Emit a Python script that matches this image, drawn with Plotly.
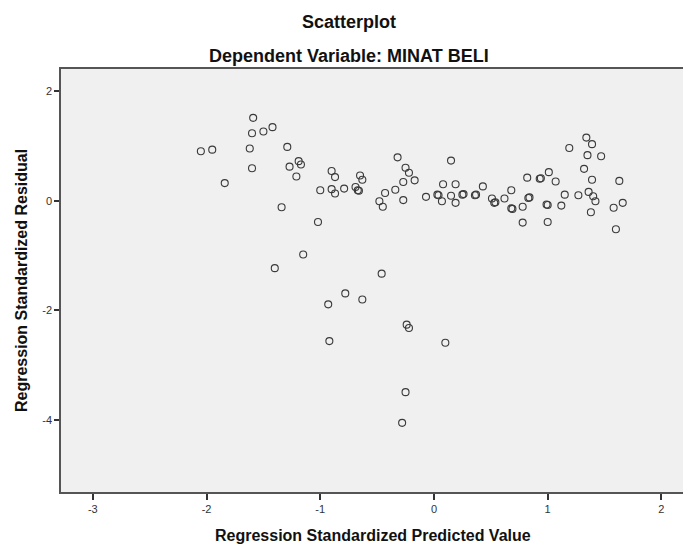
import plotly.graph_objects as go

predicted = [-2.05, -1.95, -1.84, -1.59, -1.60, -1.50, -1.42, -1.62, -1.60, -1.29,
             -1.19, -1.17, -1.27, -1.21, -1.34, -1.02, -1.15, -1.40, -0.46, -0.78,
             -0.63, -0.93, -0.92, -0.90, -0.87, -1.00, -0.90, -0.87, -0.79, -0.69,
             -0.67, -0.66, -0.65, -0.63, -0.32, -0.25, -0.22, -0.17, -0.27, -0.34,
             -0.43, -0.48, -0.45, -0.27, -0.07, 0.15, 0.03, 0.04, 0.08, 0.07,
             0.15, 0.19, 0.19, 0.25, 0.26, 0.37, 0.36, 0.43, 0.51, 0.53,
             0.54, 0.62, 0.68, 0.69, 0.68, 0.78, 0.78, 0.82, 0.84, 0.83,
             0.93, 0.94, 1.01, 1.07, 0.99, 1.00, 1.00, 1.12, 1.15, 1.19,
             1.27, 1.32, 1.34, 1.39, 1.35, 1.47, 1.39, 1.36, 1.40, 1.42,
             1.38, 1.63, 1.58, 1.66, 1.60, -0.24, -0.22, 0.10, -0.25, -0.28]
residual = [0.90, 0.93, 0.32, 1.51, 1.23, 1.26, 1.34, 0.95, 0.59, 0.98,
            0.72, 0.66, 0.62, 0.44, -0.12, -0.39, -0.98, -1.23, -1.33, -1.69,
            -1.80, -1.89, -2.56, 0.54, 0.43, 0.19, 0.21, 0.13, 0.22, 0.25,
            0.19, 0.18, 0.46, 0.38, 0.79, 0.60, 0.51, 0.37, 0.34, 0.20,
            0.14, -0.01, -0.11, 0.01, 0.07, 0.73, 0.11, 0.10, 0.30, -0.01,
            0.09, 0.30, -0.04, 0.11, 0.12, 0.11, 0.10, 0.26, 0.04, -0.04,
            -0.03, 0.04, 0.19, -0.15, -0.14, -0.11, -0.40, 0.42, 0.06, 0.05,
            0.40, 0.41, 0.52, 0.35, -0.07, -0.08, -0.39, -0.09, 0.11, 0.96,
            0.10, 0.58, 1.15, 1.03, 0.83, 0.81, 0.38, 0.16, 0.08, -0.01,
            -0.21, 0.36, -0.13, -0.04, -0.52, -2.26, -2.32, -2.59, -3.49, -4.05]

x_ticks = [-3, -2, -1, 0, 1, 2]
y_ticks = [2, 0, -2, -4]

FONT = "Liberation Sans, Arial, sans-serif"
TITLE_FONT = dict(size=18, color="#111", family=FONT)
AXIS_TITLE_FONT = dict(size=16, color="#111", family=FONT)

fig = go.Figure()
fig.add_trace(go.Scatter(
    x=predicted, y=residual, mode="markers",
    marker=dict(symbol="circle-open", size=7, color="#3a3a3a", line=dict(width=1.1)),
    showlegend=False, hoverinfo="x+y",
))

fig.update_layout(
    width=683, height=544,
    margin=dict(l=61, r=0, t=69, b=52, autoexpand=False),
    paper_bgcolor="white", plot_bgcolor="#f0f0f0",
    font=dict(family=FONT, color="#222"),
    xaxis=dict(
        range=[-3.28, 2.19], tickvals=x_ticks, ticktext=[str(v) for v in x_ticks],
        showgrid=False, zeroline=False, showline=True, linecolor="#555", linewidth=1.5,
        mirror=True, ticks="outside", ticklen=6, tickcolor="#333", tickwidth=1.5,
        tickfont=dict(size=11, color="#333", family=FONT), automargin=False,
    ),
    yaxis=dict(
        range=[-5.31, 2.40], tickvals=y_ticks, ticktext=[str(v) for v in y_ticks],
        showgrid=False, zeroline=False, showline=True, linecolor="#555", linewidth=1.5,
        ticks="outside", ticklen=5, tickcolor="#333", tickwidth=1.5,
        tickfont=dict(size=11, color="#333", family=FONT), automargin=False,
    ),
    annotations=[
        dict(text="<b>Scatterplot</b>", xref="paper", yref="paper", x=0.463, y=1.112,
             xanchor="center", yanchor="middle", showarrow=False, font=TITLE_FONT),
        dict(text="<b>Dependent Variable: MINAT BELI</b>", xref="paper", yref="paper",
             x=0.463, y=1.031, xanchor="center", yanchor="middle", showarrow=False,
             font=TITLE_FONT),
        dict(text="<b>Regression Standardized Predicted Value</b>", xref="paper",
             yref="paper", x=0.502, y=-0.1017, xanchor="center", yanchor="middle",
             showarrow=False, font=AXIS_TITLE_FONT),
        dict(text="<b>Regression Standardized Residual</b>", xref="paper",
             yref="paper", x=-0.0635, y=0.5, xanchor="center", yanchor="middle",
             textangle=-90, showarrow=False, font=AXIS_TITLE_FONT),
    ],
)

fig.write_html("out.html", config={"displayModeBar": False},
               post_script="document.body.style.margin='0';document.body.style.overflow='hidden';")
